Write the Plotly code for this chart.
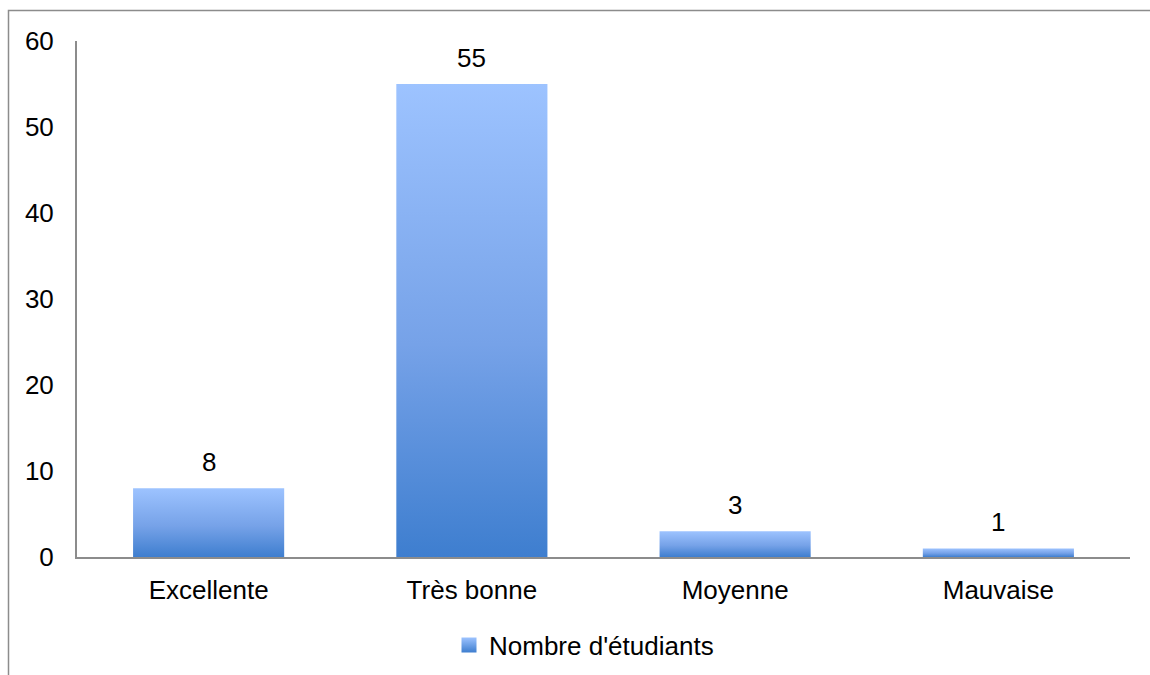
import plotly.graph_objects as go

# Survey results: how students rated the course
categories = ["Excellente", "Très bonne", "Moyenne", "Mauvaise"]
counts = [8, 55, 3, 1]
series_name = "Nombre d'étudiants"
y_ticks = [0, 10, 20, 30, 40, 50, 60]

FONT = "Liberation Sans, Arial, sans-serif"
DARK = "#3E7ECF"
MID = "#76A2E8"
LIGHT = "#9DC3FF"
GRADIENT = [[0, DARK], [0.45, MID], [1, LIGHT]]
HALF = 0.287  # half bar width in category units

fig = go.Figure()

# Each bar is a closed polygon so it can carry its own vertical gradient
for i, (cat, v) in enumerate(zip(categories, counts)):
    fig.add_trace(go.Scatter(
        x=[i - HALF, i + HALF, i + HALF, i - HALF, i - HALF],
        y=[0, 0, v, v, 0],
        mode="lines",
        fill="toself",
        fillgradient=dict(type="vertical", colorscale=GRADIENT),
        line=dict(width=0, color=MID),
        showlegend=False,
        hoverinfo="skip",
        name=cat,
    ))

# Legend entry
fig.add_trace(go.Scatter(
    x=[None], y=[None], mode="markers", name=series_name,
    marker=dict(symbol="square", size=15, color=LIGHT,
                gradient=dict(type="vertical", color=DARK)),
    showlegend=True,
))

# Value labels above bars
for i, v in enumerate(counts):
    fig.add_annotation(x=i, y=v, text=str(v), showarrow=False,
                       yanchor="bottom", yshift=9,
                       font=dict(family=FONT, size=26, color="#000000"))

W, H = 1150, 675
L, R, T, B = 77, 20, 41, 118
pw, ph = W - L - R, H - T - B

def px_x(p):
    return (p - L) / pw

def px_y(p):
    return (H - B - p) / ph

# Outer chart frame
fig.add_shape(type="rect", xref="paper", yref="paper",
              x0=px_x(8.5), x1=px_x(1170), y0=px_y(700), y1=px_y(10.5),
              line=dict(color="#8C8C8C", width=1.5), fillcolor="rgba(0,0,0,0)",
              layer="below")

fig.update_layout(
    width=W, height=H,
    margin=dict(l=L, r=R, t=T, b=B, autoexpand=False),
    paper_bgcolor="white", plot_bgcolor="white",
    font=dict(family=FONT, size=26, color="#000000"),
    showlegend=True,
    legend=dict(orientation="h", xref="container", yref="container",
                x=584 / W, xanchor="center",
                y=1 - 645 / H, yanchor="middle",
                font=dict(family=FONT, size=26), itemwidth=30,
                bgcolor="rgba(0,0,0,0)"),
    xaxis=dict(range=[-0.5, 3.5], tickvals=list(range(len(categories))),
               ticktext=categories, showgrid=False, zeroline=False,
               showline=True, linecolor="#8C8C8C", linewidth=2,
               ticks="", ticklabelstandoff=9, fixedrange=True),
    yaxis=dict(range=[0, 60], tickvals=y_ticks, showgrid=False,
               zeroline=False, showline=True, linecolor="#8C8C8C",
               linewidth=2, ticks="", ticklabelstandoff=16, fixedrange=True),
)

fig.write_html("out.html")
